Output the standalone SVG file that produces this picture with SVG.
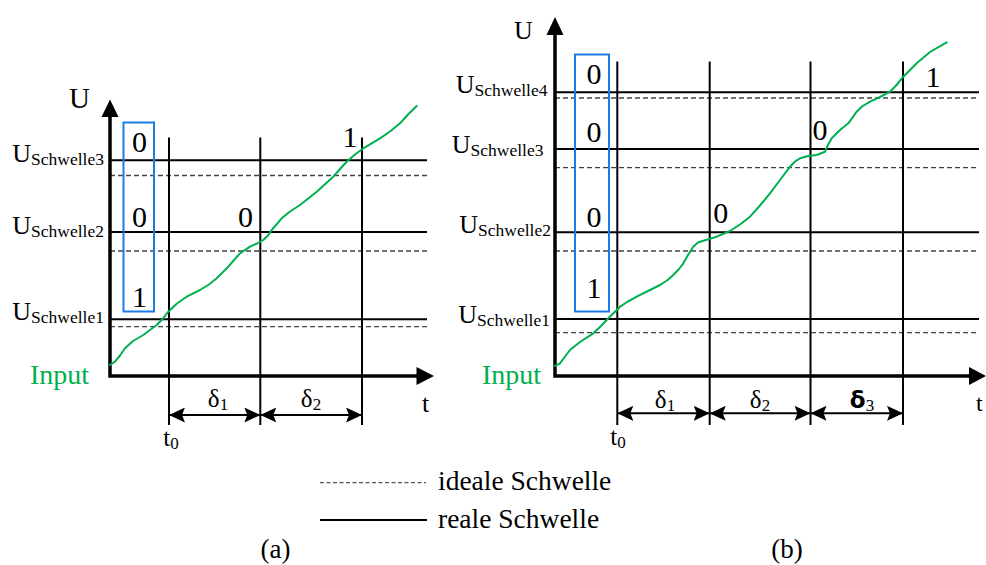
<svg xmlns="http://www.w3.org/2000/svg" width="986" height="565" viewBox="0 0 986 565" font-family="'Liberation Serif', 'DejaVu Serif', serif">
<style>
text{font-family:'Liberation Serif','DejaVu Serif',serif;fill:#000}
.axis{stroke:#000;stroke-width:3.5;fill:none}
.head{fill:#000}
.real{stroke:#000;stroke-width:2}
.ideal{stroke:#444;stroke-width:1.3;stroke-dasharray:5,3}
.div{stroke:#000;stroke-width:2}
.box{fill:none;stroke:#1C7CE5;stroke-width:2}
.curve{fill:none;stroke:#00B050;stroke-width:2;stroke-linejoin:round;stroke-linecap:round}
.dim{stroke:#000;stroke-width:2;marker-start:url(#ah);marker-end:url(#ah)}
.lbl{font-size:26px}
.sub{font-size:17.5px}
.dig{font-size:30px}
.inp{font-size:28px;fill:#00B050}
.dl{font-size:25px}
.ds{font-size:17px}
</style>
<defs>
<marker id="ah" viewBox="0 0 16 15" markerUnits="userSpaceOnUse" markerWidth="16" markerHeight="15" refX="16" refY="7.5" orient="auto-start-reverse">
<path d="M0,0 L16,7.5 L0,15 L3,7.5 z" fill="#000"/>
</marker>
</defs>
<rect width="986" height="565" fill="#fff"/>

<g id="panel-a">
  <g id="a-thresholds">
    <line class="real" x1="110" y1="160.3" x2="427" y2="160.3"/>
    <line class="real" x1="110" y1="232" x2="427" y2="232"/>
    <line class="real" x1="110" y1="319.3" x2="427" y2="319.3"/>
    <line class="ideal" x1="110" y1="175.5" x2="427" y2="175.5"/>
    <line class="ideal" x1="110" y1="251" x2="427" y2="251"/>
    <line class="ideal" x1="110" y1="326.7" x2="427" y2="326.7"/>
  </g>
  <g id="a-dividers">
    <line class="div" x1="169" y1="137.5" x2="169" y2="425"/>
    <line class="div" x1="260.3" y1="137.5" x2="260.3" y2="425"/>
    <line class="div" x1="362" y1="137.5" x2="362" y2="425"/>
  </g>
  <g id="a-axes">
    <path class="axis" d="M110,112 V376 H420"/>
    <polygon class="head" points="110,99.5 118.5,117 101.5,117"/>
    <polygon class="head" points="434,376 416.5,367 416.5,385"/>
    <text x="69" y="108" font-size="29">U</text>
    <text x="422" y="412" font-size="26">t</text>
  </g>
  <g id="a-labels">
    <text class="lbl" x="104" y="161.7" text-anchor="end">U<tspan class="sub" dy="3">Schwelle3</tspan></text>
    <text class="lbl" x="104" y="234" text-anchor="end">U<tspan class="sub" dy="3">Schwelle2</tspan></text>
    <text class="lbl" x="104" y="320" text-anchor="end">U<tspan class="sub" dy="3">Schwelle1</tspan></text>
    <text class="inp" x="89" y="383.5" text-anchor="end">Input</text>
  </g>
  <g id="a-box">
    <rect class="box" x="123.5" y="122.5" width="30.5" height="189"/>
    <text class="dig" x="139.5" y="152" text-anchor="middle">0</text>
    <text class="dig" x="139.5" y="227.3" text-anchor="middle">0</text>
    <text class="dig" x="139.5" y="306.5" text-anchor="middle">1</text>
  </g>
  <text class="dig" x="245.5" y="227.3" text-anchor="middle">0</text>
  <text class="dig" x="350" y="147.3" text-anchor="middle">1</text>
  <polyline id="a-input" class="curve" points="110,365 115,361.7 120,355.5 125,348.3 133,341 143.3,335 156.7,325 163,318.5 168.3,311.7 177,303.5 186.7,296.7 200,290 209,284.5 216.7,278.3 228.3,266.7 234,260 240,253.3 250,246.7 257,243.5 263.3,240 268,235.5 271.7,230 281.7,218.3 290,211.5 300,205 316.7,191.7 333.3,176.7 340,169 346.7,161.7 355,154.5 363.3,148.3 380,138.3 390,131.5 400,123.3 408,114.5 416.7,106"/>
  <g id="a-intervals">
    <line class="dim" x1="169" y1="415" x2="260.3" y2="415"/>
    <line class="dim" x1="260.3" y1="415" x2="362" y2="415"/>
    <text class="dl" x="218" y="406.5" text-anchor="middle">δ<tspan class="ds" dy="3">1</tspan></text>
    <text class="dl" x="311" y="406.5" text-anchor="middle">δ<tspan class="ds" dy="3">2</tspan></text>
    <text class="dl" x="171" y="446" text-anchor="middle">t<tspan class="ds" dy="3">0</tspan></text>
  </g>
  <text x="275.5" y="558" text-anchor="middle" font-size="27">(a)</text>
</g>

<g id="panel-b">
  <g id="b-thresholds">
    <line class="real" x1="555" y1="92.3" x2="979" y2="92.3"/>
    <line class="real" x1="555" y1="149" x2="979" y2="149"/>
    <line class="real" x1="555" y1="232.3" x2="979" y2="232.3"/>
    <line class="real" x1="555" y1="319" x2="979" y2="319"/>
    <line class="ideal" x1="555" y1="98" x2="979" y2="98"/>
    <line class="ideal" x1="555" y1="167.7" x2="979" y2="167.7"/>
    <line class="ideal" x1="555" y1="251" x2="979" y2="251"/>
    <line class="ideal" x1="555" y1="332.7" x2="979" y2="332.7"/>
  </g>
  <g id="b-dividers">
    <line class="div" x1="617.3" y1="61.5" x2="617.3" y2="425"/>
    <line class="div" x1="709.7" y1="61.5" x2="709.7" y2="425"/>
    <line class="div" x1="810.5" y1="61.5" x2="810.5" y2="425"/>
    <line class="div" x1="903" y1="61.5" x2="903" y2="425"/>
  </g>
  <g id="b-axes">
    <path class="axis" d="M555,30 V376 H973"/>
    <polygon class="head" points="555,17 563.5,35 546.5,35"/>
    <polygon class="head" points="986,376 969,367 969,385"/>
    <text x="514" y="39" font-size="26">U</text>
    <text x="976" y="411" font-size="24">t</text>
  </g>
  <g id="b-labels">
    <text class="lbl" x="547.5" y="93.3" text-anchor="end">U<tspan class="sub" dy="3">Schwelle4</tspan></text>
    <text class="lbl" x="543.5" y="152.7" text-anchor="end">U<tspan class="sub" dy="3">Schwelle3</tspan></text>
    <text class="lbl" x="551" y="233.3" text-anchor="end">U<tspan class="sub" dy="3">Schwelle2</tspan></text>
    <text class="lbl" x="550" y="323.3" text-anchor="end">U<tspan class="sub" dy="3">Schwelle1</tspan></text>
    <text class="inp" x="541" y="383.5" text-anchor="end">Input</text>
  </g>
  <g id="b-box">
    <rect class="box" x="575" y="54.5" width="34" height="257"/>
    <text class="dig" x="594" y="84" text-anchor="middle">0</text>
    <text class="dig" x="594" y="142.3" text-anchor="middle">0</text>
    <text class="dig" x="594" y="227.3" text-anchor="middle">0</text>
    <text class="dig" x="594" y="298.3" text-anchor="middle">1</text>
  </g>
  <text class="dig" x="720.7" y="223.3" text-anchor="middle">0</text>
  <text class="dig" x="820" y="140" text-anchor="middle">0</text>
  <text class="dig" x="933" y="86.7" text-anchor="middle">1</text>
  <polyline id="b-input" class="curve" points="555,366 560,363.3 565,356.5 570,350 580,342 593.3,333.3 601,326 608.3,318.3 620,306.7 628,301.5 636.7,296.7 648,291 660,285 667,280.5 673.3,275 679,269 683.3,263.3 688,255 693.3,246.7 698,242.5 703.3,240.7 716.7,236.7 730,231 740,224.5 750,216.7 760,205.5 770,193.3 780,180 790,166.7 795,161.5 800,158.3 808,156 816.7,155 825,151.7 828,145 831.7,138.3 840,130 848.3,123.3 856.7,111.7 862,106.5 870,101.7 880,97 890,91.7 897,84.5 903.3,76.7 916.7,63.3 930,52 946.7,42.3"/>
  <g id="b-intervals">
    <line class="dim" x1="617.3" y1="413.3" x2="709.7" y2="413.3"/>
    <line class="dim" x1="709.7" y1="413.3" x2="810.5" y2="413.3"/>
    <line class="dim" x1="810.5" y1="413.3" x2="903" y2="413.3"/>
    <text class="dl" x="665" y="408" text-anchor="middle">δ<tspan class="ds" dy="3">1</tspan></text>
    <text class="dl" x="760" y="408" text-anchor="middle">δ<tspan class="ds" dy="3">2</tspan></text>
    <text class="dl" x="862" y="408" text-anchor="middle"><tspan font-family="'DejaVu Sans', sans-serif" font-weight="bold" font-size="23">δ</tspan><tspan class="ds" dy="3">3</tspan></text>
    <text class="dl" x="618" y="445" text-anchor="middle">t<tspan class="ds" dy="3">0</tspan></text>
  </g>
  <text x="787" y="558" text-anchor="middle" font-size="27">(b)</text>
</g>

<g id="legend">
  <line x1="320" y1="482.7" x2="426" y2="482.7" stroke="#555" stroke-width="1.2" stroke-dasharray="4,2.5"/>
  <text x="438" y="490" font-size="27.5">ideale Schwelle</text>
  <line x1="320" y1="520" x2="427" y2="520" stroke="#000" stroke-width="2"/>
  <text x="438" y="528.3" font-size="27.5">reale Schwelle</text>
</g>
</svg>
